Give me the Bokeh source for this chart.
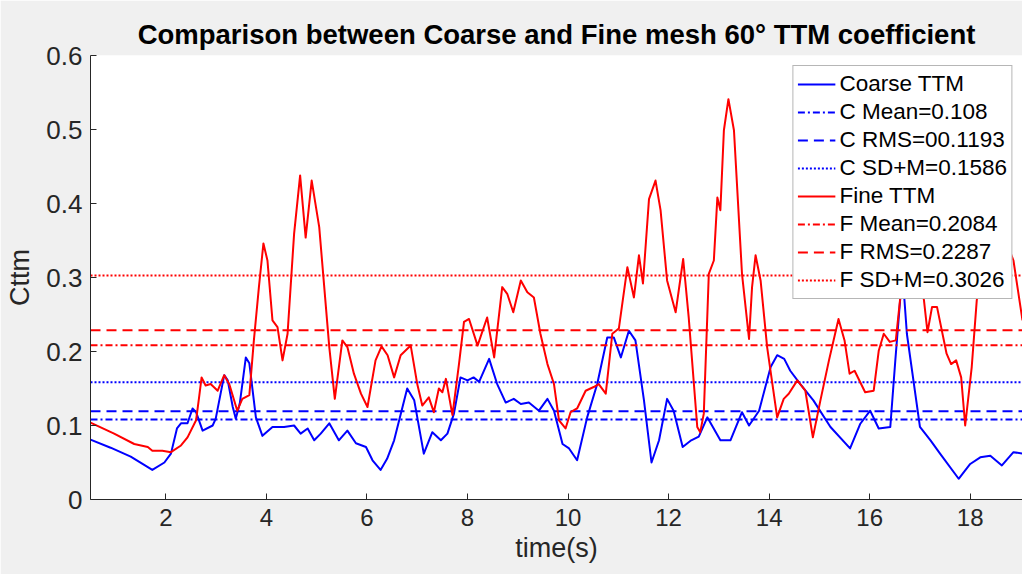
from bokeh.plotting import figure
from bokeh.models import Range1d, FixedTicker
from bokeh.embed import file_html
from bokeh.resources import INLINE

# Time histories of the TTM coefficient for both meshes
time_coarse = [0.50, 0.90, 1.30, 1.73, 1.97, 2.10, 2.22, 2.30, 2.43, 2.53, 2.60, 2.73, 2.93, 2.99,
               3.16, 3.23, 3.33, 3.39, 3.47, 3.59, 3.66, 3.79, 3.92, 4.12, 4.35, 4.55, 4.68, 4.82,
               4.95, 5.08, 5.25, 5.44, 5.61, 5.78, 5.98, 6.11, 6.27, 6.40, 6.54, 6.80, 6.94, 7.13,
               7.30, 7.47, 7.60, 7.73, 7.86, 8.00, 8.12, 8.23, 8.43, 8.59, 8.76, 8.92, 9.06, 9.22,
               9.42, 9.59, 9.72, 9.89, 10.02, 10.18, 10.38, 10.58, 10.78, 10.91, 11.05, 11.21,
               11.34, 11.51, 11.66, 11.81, 11.97, 12.10, 12.28, 12.45, 12.60, 12.77, 13.03, 13.23,
               13.46, 13.60, 13.80, 14.03, 14.16, 14.30, 14.42, 14.62, 14.88, 15.22, 15.61, 15.81,
               16.01, 16.18, 16.41, 16.51, 16.61, 16.67, 16.74, 17.00, 17.21, 17.40, 17.77, 18.00,
               18.20, 18.40, 18.63, 18.86, 19.04]
cttm_coarse = [0.081, 0.070, 0.058, 0.040, 0.050, 0.062, 0.096, 0.103, 0.103, 0.123, 0.118, 0.093,
               0.100, 0.109, 0.168, 0.161, 0.125, 0.109, 0.130, 0.192, 0.184, 0.111, 0.086, 0.098,
               0.098, 0.100, 0.089, 0.096, 0.080, 0.089, 0.103, 0.080, 0.093, 0.076, 0.071, 0.053,
               0.040, 0.055, 0.080, 0.150, 0.134, 0.062, 0.091, 0.080, 0.089, 0.116, 0.165, 0.161,
               0.165, 0.159, 0.190, 0.156, 0.131, 0.136, 0.129, 0.131, 0.120, 0.136, 0.120, 0.075,
               0.069, 0.053, 0.111, 0.156, 0.219, 0.219, 0.192, 0.228, 0.215, 0.134, 0.050, 0.080,
               0.136, 0.120, 0.071, 0.080, 0.085, 0.111, 0.080, 0.080, 0.118, 0.100, 0.120, 0.179,
               0.195, 0.190, 0.174, 0.156, 0.134, 0.098, 0.069, 0.102, 0.120, 0.096, 0.098, 0.188,
               0.273, 0.290, 0.224, 0.098, 0.080, 0.062, 0.028, 0.048, 0.057, 0.059, 0.046, 0.064,
               0.062]

time_fine = [0.50, 0.97, 1.37, 1.64, 1.73, 1.93, 2.10, 2.30, 2.43, 2.60, 2.66, 2.71, 2.79, 2.89,
             3.03, 3.16, 3.26, 3.42, 3.52, 3.66, 3.75, 3.85, 3.94, 4.02, 4.12, 4.22, 4.32, 4.42,
             4.55, 4.67, 4.78, 4.90, 5.05, 5.25, 5.36, 5.51, 5.61, 5.74, 5.88, 6.01, 6.17, 6.29,
             6.41, 6.54, 6.67, 6.87, 7.00, 7.10, 7.23, 7.33, 7.43, 7.50, 7.57, 7.70, 7.83, 7.93,
             8.03, 8.20, 8.39, 8.53, 8.69, 8.79, 8.91, 9.06, 9.19, 9.32, 9.45, 9.59, 9.72, 9.82,
             9.95, 10.05, 10.18, 10.35, 10.51, 10.61, 10.75, 10.88, 11.01, 11.18, 11.31, 11.41,
             11.49, 11.61, 11.74, 11.84, 11.97, 12.14, 12.29, 12.40, 12.57, 12.63, 12.70, 12.80,
             12.90, 12.97, 13.03, 13.10, 13.19, 13.30, 13.46, 13.60, 13.66, 13.73, 13.83, 13.96,
             14.16, 14.29, 14.39, 14.56, 14.72, 14.87, 15.02, 15.19, 15.38, 15.50, 15.60, 15.70,
             15.91, 16.08, 16.18, 16.28, 16.40, 16.52, 16.65, 16.82, 17.00, 17.08, 17.15, 17.24,
             17.34, 17.53, 17.62, 17.72, 17.82, 17.90, 18.03, 18.13, 18.30, 18.60, 18.86, 19.04]
cttm_fine = [0.104, 0.089, 0.075, 0.071, 0.066, 0.066, 0.064, 0.073, 0.084, 0.107, 0.138, 0.165,
             0.154, 0.156, 0.147, 0.168, 0.156, 0.120, 0.136, 0.141, 0.215, 0.287, 0.346, 0.323,
             0.242, 0.233, 0.188, 0.224, 0.359, 0.438, 0.354, 0.431, 0.368, 0.206, 0.136, 0.215,
             0.206, 0.170, 0.143, 0.125, 0.188, 0.207, 0.195, 0.165, 0.195, 0.208, 0.156, 0.127,
             0.138, 0.118, 0.150, 0.145, 0.163, 0.114, 0.183, 0.240, 0.244, 0.208, 0.246, 0.192,
             0.287, 0.278, 0.253, 0.296, 0.280, 0.273, 0.224, 0.183, 0.156, 0.107, 0.096, 0.118,
             0.123, 0.147, 0.152, 0.156, 0.143, 0.224, 0.231, 0.314, 0.273, 0.330, 0.292, 0.406,
             0.431, 0.391, 0.296, 0.253, 0.325, 0.246, 0.098, 0.091, 0.116, 0.305, 0.323, 0.408,
             0.391, 0.499, 0.541, 0.499, 0.305, 0.217, 0.287, 0.330, 0.296, 0.206, 0.111, 0.136,
             0.143, 0.161, 0.147, 0.084, 0.134, 0.188, 0.244, 0.215, 0.170, 0.174, 0.145, 0.147,
             0.201, 0.224, 0.213, 0.215, 0.300, 0.340, 0.300, 0.269, 0.226, 0.260, 0.260, 0.197,
             0.183, 0.188, 0.165, 0.100, 0.179, 0.269, 0.340, 0.370, 0.323, 0.242]

# Summary statistics (mean, RMS, SD + mean) for each mesh
coarse_stats = [0.108, 0.1193, 0.1586]
fine_stats = [0.2084, 0.2287, 0.3026]
coarse_stat_labels = ["C Mean=0.108", "C RMS=00.1193", "C SD+M=0.1586"]
fine_stat_labels = ["F Mean=0.2084", "F RMS=0.2287", "F SD+M=0.3026"]

x_span = [0.5, 19.04]
x_ticks = [2, 4, 6, 8, 10, 12, 14, 16, 18]
y_ticks = [0, 0.1, 0.2, 0.3, 0.4, 0.5, 0.6]
y_tick_labels = ["0", "0.1", "0.2", "0.3", "0.4", "0.5", "0.6"]

FONT = "Liberation Sans"
TEXT = "#262626"
BLUE = "#0000ff"
RED = "#ff0000"
stat_dashes = ["7 3 2 3", "10 6", "2 2"]

p = figure(width=1022, height=574, output_backend="svg", toolbar_location=None,
           x_range=Range1d(x_span[0], x_span[1]), y_range=Range1d(0, 0.6),
           min_border_left=90, min_border_right=0, min_border_top=55, min_border_bottom=75,
           title="Comparison between Coarse and Fine mesh 60° TTM coefficient")

p.frame_width = 932
p.frame_height = 444
p.border_fill_color = "#f0f0f0"
p.background_fill_color = "white"
p.outline_line_color = None
p.grid.visible = False

p.title.align = "center"
p.title.text_font = FONT
p.title.text_font_size = "27.5px"
p.title.text_font_style = "bold"
p.title.text_color = "black"
p.title.standoff = 11

# Coarse mesh series and its statistics
p.line(time_coarse, cttm_coarse, line_color=BLUE, line_width=2, line_join="round",
       legend_label="Coarse TTM")
for val, lab, dash in zip(coarse_stats, coarse_stat_labels, stat_dashes):
    p.line(x_span, [val, val], line_color=BLUE, line_width=2, line_dash=dash, legend_label=lab)

# Fine mesh series and its statistics
p.line(time_fine, cttm_fine, line_color=RED, line_width=2, line_join="round",
       legend_label="Fine TTM")
for val, lab, dash in zip(fine_stats, fine_stat_labels, stat_dashes):
    p.line(x_span, [val, val], line_color=RED, line_width=2, line_dash=dash, legend_label=lab)

for ax in (p.xaxis[0], p.yaxis[0]):
    ax.axis_line_color = TEXT
    ax.major_tick_line_color = TEXT
    ax.major_tick_in = 6
    ax.major_tick_out = 0
    ax.minor_tick_line_color = None
    ax.major_label_text_font = FONT
    ax.major_label_text_color = TEXT
    ax.axis_label_text_font = FONT
    ax.axis_label_text_font_size = "27px"
    ax.axis_label_text_font_style = "normal"
    ax.axis_label_text_color = TEXT

p.xaxis.major_label_text_font_size = "24px"
p.yaxis.major_label_text_font_size = "26px"
p.xaxis.ticker = FixedTicker(ticks=x_ticks)
p.yaxis.ticker = FixedTicker(ticks=y_ticks)
p.yaxis.major_label_overrides = {t: s for t, s in zip(y_ticks, y_tick_labels)}
p.xaxis.axis_label = "time(s)"
p.yaxis.axis_label = "Cttm"
p.xaxis.major_label_standoff = 9
p.yaxis.major_label_standoff = 8
p.xaxis.axis_label_standoff = 4
p.yaxis.axis_label_standoff = 8

leg = p.legend[0]
leg.location = "top_right"
leg.margin = 10
leg.padding = 4
leg.spacing = 0
leg.glyph_width = 38
leg.glyph_height = 28
leg.label_height = 28
leg.label_standoff = 4
leg.label_text_font = FONT
leg.label_text_font_size = "22.5px"
leg.label_text_color = "black"
leg.border_line_color = "#6e6e6e"
leg.border_line_width = 1
leg.background_fill_color = "white"
leg.background_fill_alpha = 1.0

open("out.html", "w").write(file_html(p, INLINE))
